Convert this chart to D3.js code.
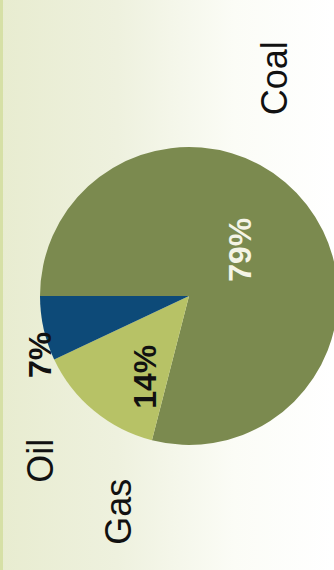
<!DOCTYPE html>
<html>
<head>
<meta charset="utf-8">
<script src="https://cdn.jsdelivr.net/npm/d3@7"></script>
<style>
  html, body { margin: 0; padding: 0; background: #fff; }
  svg { display: block; }
</style>
</head>
<body>
<svg id="chart" width="334" height="570"></svg>
<script>
// Energy mix by fuel
const categories = ["Coal", "Gas", "Oil"];
const shares = [79, 14, 7];
const shareLabels = ["79%", "14%", "7%"];
const colors = ["#7b8a4f", "#b7c266", "#0d4a78"];

const W = 334, H = 570;
const cx = 189, cy = 296, R = 149;

const svg = d3.select("#chart");

// soft green-cream wash fading to white on the right
const defs = svg.append("defs");
const grad = defs.append("linearGradient").attr("id", "wash")
  .attr("x1", 0).attr("x2", 1).attr("y1", 0).attr("y2", 0);
grad.append("stop").attr("offset", "0%").attr("stop-color", "#e8ecd0");
grad.append("stop").attr("offset", "35%").attr("stop-color", "#eef1de");
grad.append("stop").attr("offset", "70%").attr("stop-color", "#fbfcf6");
grad.append("stop").attr("offset", "100%").attr("stop-color", "#ffffff");
svg.append("rect").attr("width", W).attr("height", H).attr("fill", "url(#wash)");
svg.append("rect").attr("x", 0).attr("y", 0).attr("width", 3).attr("height", H).attr("fill", "#d6e0a6");

const pie = d3.pie().sort(null)
  .startAngle(-Math.PI / 2).endAngle(1.5 * Math.PI);
const arcs = pie(shares);
const arc = d3.arc().innerRadius(0).outerRadius(R);

const g = svg.append("g").attr("transform", `translate(${cx},${cy})`);
g.selectAll("path").data(arcs).join("path")
  .attr("d", arc)
  .attr("fill", (d, i) => colors[i]);

// label placement: bearing (degrees clockwise from up) and distance from the pie centre
const nameSpots = [ { a: 21.5, r: 234 }, { a: 198.2, r: 227 }, { a: 222.1, r: 222 } ];
const valueSpots = [ { a: 47.9, r: 69 }, { a: 208.5, r: 92 }, { a: 248.4, r: 160 } ];
const valueFill = ["#f4f4e6", "#111", "#111"];

function spot(s) {
  const a = s.a * Math.PI / 180;
  return [Math.sin(a) * s.r, -Math.cos(a) * s.r];
}

g.selectAll("text.name").data(arcs).join("text")
  .attr("class", "name")
  .attr("transform", (d, i) => { const p = spot(nameSpots[i]); return `translate(${p[0]},${p[1]}) rotate(-90)`; })
  .attr("text-anchor", "middle").attr("dominant-baseline", "central")
  .attr("font-family", "Liberation Sans, Arial, sans-serif")
  .attr("font-size", 36).attr("fill", "#111")
  .text((d, i) => categories[i]);

g.selectAll("text.value").data(arcs).join("text")
  .attr("class", "value")
  .attr("transform", (d, i) => { const p = spot(valueSpots[i]); return `translate(${p[0]},${p[1]}) rotate(-90)`; })
  .attr("text-anchor", "middle").attr("dominant-baseline", "central")
  .attr("font-family", "Liberation Sans, Arial, sans-serif")
  .attr("font-weight", "bold")
  .attr("font-size", 32).attr("fill", (d, i) => valueFill[i])
  .text((d, i) => shareLabels[i]);
</script>
</body>
</html>
